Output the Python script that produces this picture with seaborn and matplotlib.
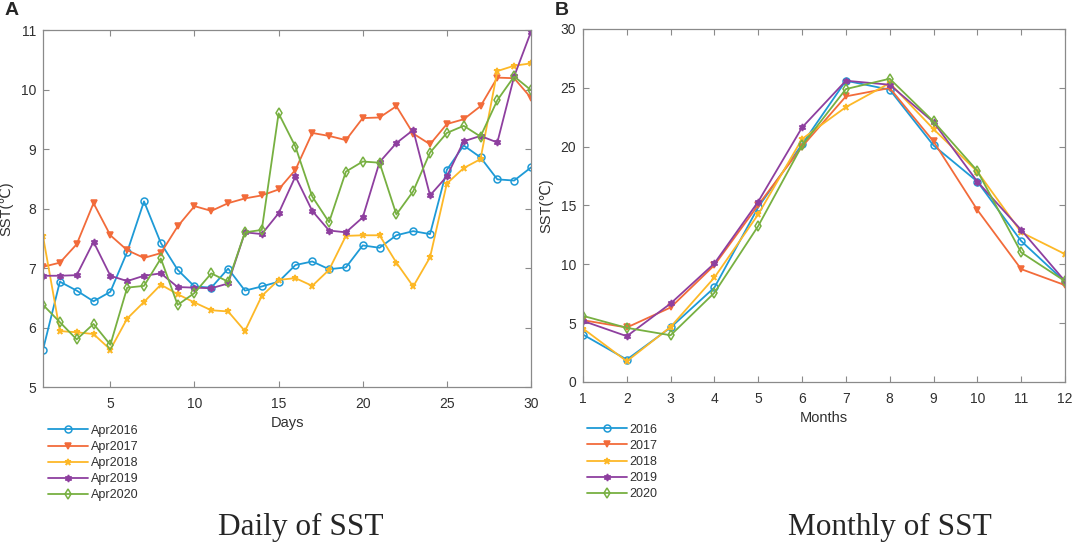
import numpy as np
import pandas as pd
import seaborn as sns
import matplotlib.pyplot as plt

# daily SST in April
days = list(range(1, 31))
apr2016 = [5.63, 6.77, 6.62, 6.44, 6.60, 7.27, 8.12, 7.42, 6.97, 6.69,
           6.67, 6.99, 6.62, 6.69, 6.77, 7.05, 7.11, 6.98, 7.01, 7.38,
           7.34, 7.55, 7.62, 7.57, 8.65, 9.06, 8.86, 8.49, 8.47, 8.69]
apr2017 = [7.02, 7.09, 7.40, 8.09, 7.55, 7.30, 7.17, 7.25, 7.70, 8.04,
           7.96, 8.09, 8.17, 8.22, 8.32, 8.65, 9.27, 9.22, 9.15, 9.52,
           9.53, 9.72, 9.26, 9.08, 9.42, 9.50, 9.72, 10.20, 10.19, 9.86]
apr2018 = [7.53, 5.94, 5.92, 5.89, 5.63, 6.15, 6.43, 6.72, 6.56, 6.42,
           6.29, 6.27, 5.94, 6.53, 6.80, 6.83, 6.70, 6.97, 7.54, 7.55,
           7.55, 7.09, 6.69, 7.18, 8.42, 8.68, 8.83, 10.31, 10.40, 10.44]
apr2019 = [6.87, 6.87, 6.88, 7.44, 6.87, 6.78, 6.87, 6.91, 6.68, 6.67,
           6.66, 6.74, 7.60, 7.57, 7.92, 8.54, 7.96, 7.63, 7.60, 7.85,
           8.78, 9.10, 9.32, 8.22, 8.54, 9.13, 9.22, 9.11, 10.22, 10.97]
apr2020 = [6.38, 6.09, 5.80, 6.06, 5.71, 6.67, 6.70, 7.16, 6.38, 6.58,
           6.91, 6.77, 7.60, 7.64, 9.60, 9.04, 8.20, 7.77, 8.62, 8.79,
           8.77, 7.90, 8.29, 8.94, 9.27, 9.39, 9.21, 9.82, 10.22, 9.99]
daily_labels = ["Apr2016", "Apr2017", "Apr2018", "Apr2019", "Apr2020"]

# monthly SST
months = list(range(1, 13))
m2016 = [4.03, 1.90, 4.63, 8.03, 14.85, 20.2, 25.6, 24.84, 20.1, 17.03, 11.98, 8.52]
m2017 = [5.25, 4.63, 6.33, 9.93, 15.04, 20.0, 24.27, 24.98, 20.44, 14.62, 9.59, 8.23]
m2018 = [4.54, 1.76, 4.68, 8.88, 14.25, 20.65, 23.36, 25.40, 21.49, 17.88, 12.72, 10.87]
m2019 = [5.19, 3.89, 6.67, 10.08, 15.33, 21.63, 25.6, 25.26, 22.08, 17.03, 12.92, 8.57]
m2020 = [5.62, 4.60, 3.97, 7.58, 13.26, 20.1, 24.89, 25.77, 22.14, 17.94, 11.01, 8.57]
monthly_labels = ["2016", "2017", "2018", "2019", "2020"]

colors = ["#1e9ad6", "#f26b3a", "#fdb827", "#8e3f9f", "#77b041"]
marks = ["o", "v", "*", (6, 1, 0), "d"]
open_marks = [True, False, False, False, True]


def long_table(x, series, labels, xname):
    rows = []
    for lab, vals in zip(labels, series):
        for xi, v in zip(x, vals):
            rows.append({xname: xi, "SST": v, "Year": lab})
    return pd.DataFrame(rows)


def draw(ax, df, xname, labels):
    sns.lineplot(data=df, x=xname, y="SST", hue="Year", style="Year",
                 hue_order=labels, style_order=labels,
                 palette=dict(zip(labels, colors)),
                 markers=dict(zip(labels, marks)), dashes=False,
                 linewidth=1.3, markersize=5, legend=False, ax=ax)
    for line, c, op in zip(ax.lines, colors, open_marks):
        line.set_markeredgecolor(c)
        line.set_markeredgewidth(1.1)
        line.set_markerfacecolor("none" if op else c)
    for s in ax.spines.values():
        s.set_visible(True)
        s.set_color("#8a8a8a")
        s.set_linewidth(0.9)
    ax.tick_params(direction="in", top=True, right=True, length=4,
                   color="#8a8a8a", labelsize=10, labelcolor="#303030")
    ax.tick_params(axis="y", pad=5)
    ax.tick_params(axis="x", pad=7)
    ax.set_ylabel("SST(℃)", fontsize=10.5, color="#303030")


sns.set_style("ticks")
plt.rcParams["font.family"] = ["Liberation Sans", "DejaVu Sans"]

fig = plt.figure(figsize=(10.79, 5.46), dpi=100)
ax1 = fig.add_axes([0.0399, 0.2912, 0.4522, 0.6538])
ax2 = fig.add_axes([0.5403, 0.3004, 0.4467, 0.6466])

df1 = long_table(days, [apr2016, apr2017, apr2018, apr2019, apr2020], daily_labels, "Days")
draw(ax1, df1, "Days", daily_labels)
ax1.set_xlim(1, 30)
ax1.set_ylim(5, 11)
ax1.set_xticks([5, 10, 15, 20, 25, 30])
ax1.set_yticks(range(5, 12))
ax1.set_xlabel("Days", fontsize=10.5, color="#303030", labelpad=4)
ax1.yaxis.set_label_coords(-0.061, 0.5)

df2 = long_table(months, [m2016, m2017, m2018, m2019, m2020], monthly_labels, "Months")
draw(ax2, df2, "Months", monthly_labels)
ax2.set_xlim(1, 12)
ax2.set_ylim(0, 30)
ax2.set_xticks(months)
ax2.set_yticks(range(0, 31, 5))
ax2.set_xlabel("Months", fontsize=10.5, color="#303030", labelpad=4)
ax2.yaxis.set_label_coords(-0.062, 0.5)

for ax, labels, x0, y0 in [(ax1, daily_labels, 0.0445, 0.222),
                           (ax2, monthly_labels, 0.544, 0.224)]:
    ax.legend(ax.lines[:5], labels, loc="upper left",
              bbox_to_anchor=(x0, y0), bbox_transform=fig.transFigure,
              frameon=False, fontsize=9, borderpad=0, borderaxespad=0,
              handlelength=3.2, handletextpad=0.2, labelspacing=0.33,
              labelcolor="#303030")

fig.text(0.004, 0.997, "A", fontsize=14, fontweight="bold", va="top")
fig.text(0.514, 0.997, "B", fontsize=14, fontweight="bold", va="top")

fig.text(301 / 1079, 1 - 527 / 546, "Daily of SST", ha="center", va="center",
         family="Liberation Serif", fontsize=22.5)
fig.text(890 / 1079, 1 - 527 / 546, "Monthly of SST", ha="center", va="center",
         family="Liberation Serif", fontsize=22.5)

fig.savefig("out.png", dpi=100)
